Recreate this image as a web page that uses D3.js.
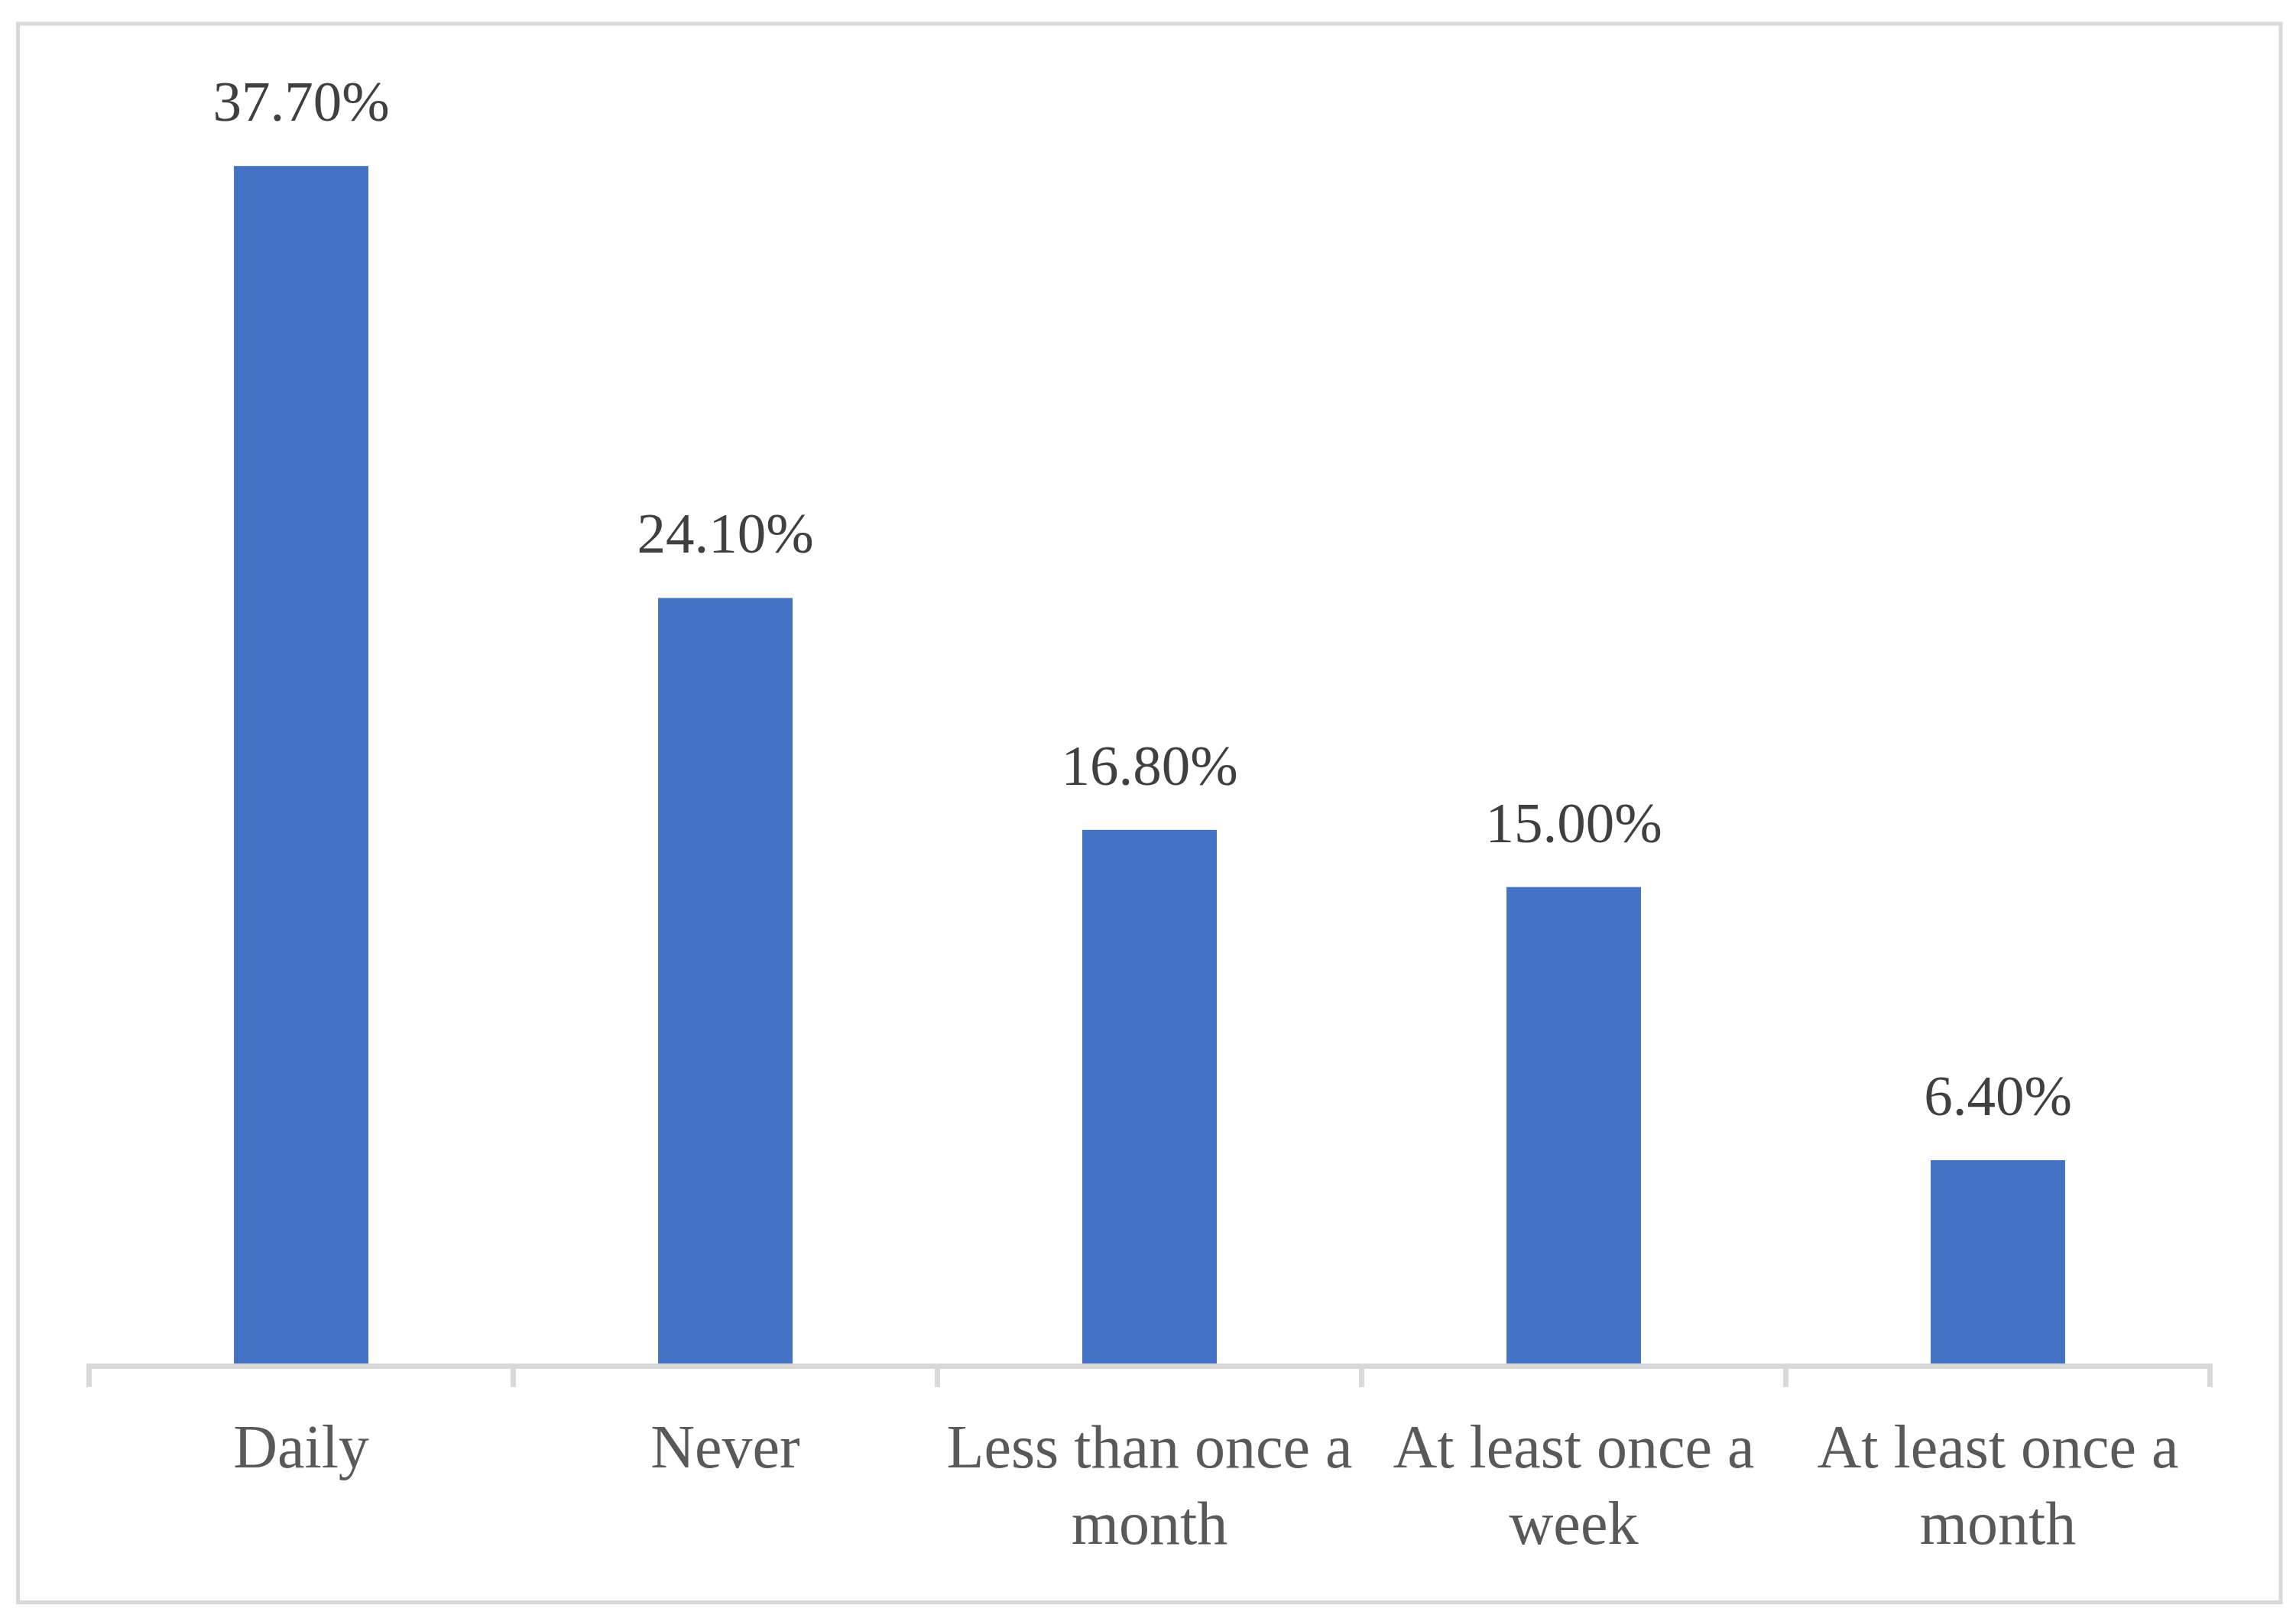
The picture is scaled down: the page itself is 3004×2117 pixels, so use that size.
<!DOCTYPE html>
<html>
<head>
<meta charset="utf-8">
<script src="https://cdn.jsdelivr.net/npm/d3@7"></script>
<style>
  html, body { margin: 0; padding: 0; background: #ffffff; }
  svg { display: block; }
</style>
</head>
<body>
<script>
// ---- data ----
const categories = ["Daily", "Never", "Less than once a month", "At least once a week", "At least once a month"];
const values = [37.7, 24.1, 16.8, 15.0, 6.4];
const valueLabels = ["37.70%", "24.10%", "16.80%", "15.00%", "6.40%"];

// ---- layout ----
const W = 3004, H = 2117;
const axisY = 1784;
const xLeft = 116.5, xRight = 2891.5;
const barRatio = 0.317;
const pxPerUnit = 41.56;

const svg = d3.select("body").append("svg")
  .attr("width", W).attr("height", H);

svg.append("rect").attr("width", W).attr("height", H).attr("fill", "#fff");

// outer border
svg.append("rect")
  .attr("x", 23.5).attr("y", 31)
  .attr("width", 2984 - 23.5).attr("height", 2096.5 - 31)
  .attr("fill", "none").attr("stroke", "#D9D9D9").attr("stroke-width", 5);

const x = d3.scaleBand().domain(categories).range([xLeft, xRight]).paddingInner(0).paddingOuter(0);
const y = d3.scaleLinear().domain([0, 40]).range([axisY, axisY - 40 * pxPerUnit]);

const data = categories.map((c, i) => ({ cat: c, v: values[i], lbl: valueLabels[i] }));
const bw = x.bandwidth();
const barW = bw * barRatio;

// bars
svg.append("g").selectAll("rect").data(data).join("rect")
  .attr("x", d => x(d.cat) + (bw - barW) / 2)
  .attr("y", d => y(d.v))
  .attr("width", barW)
  .attr("height", d => y(0) - y(d.v))
  .attr("fill", "#4472C4");

// axis line and boundary ticks
const ax = svg.append("g");
ax.append("line")
  .attr("x1", xLeft).attr("x2", xRight)
  .attr("y1", axisY + 3.5).attr("y2", axisY + 3.5)
  .attr("stroke", "#D9D9D9").attr("stroke-width", 7);
const tickPos = categories.map(c => x(c)).concat([x(categories[categories.length - 1]) + bw]);
ax.selectAll("line.tick").data(tickPos).join("line")
  .attr("class", "tick")
  .attr("x1", d => d).attr("x2", d => d)
  .attr("y1", axisY).attr("y2", 1815)
  .attr("stroke", "#D9D9D9").attr("stroke-width", 7);

// value labels
svg.append("g").selectAll("text").data(data).join("text")
  .attr("x", d => x(d.cat) + bw / 2)
  .attr("y", d => y(d.v) - 59)
  .attr("text-anchor", "middle")
  .attr("font-family", "'Liberation Serif', 'DejaVu Serif', serif")
  .attr("font-size", 75)
  .attr("fill", "#404040")
  .text(d => d.lbl);

// category labels with wrapping
const catFont = "'Liberation Serif', 'DejaVu Serif', serif";
const catG = svg.append("g");
data.forEach(d => {
  const t = catG.append("text")
    .attr("x", x(d.cat) + bw / 2)
    .attr("y", 1920)
    .attr("text-anchor", "middle")
    .attr("font-family", catFont)
    .attr("font-size", 80)
    .attr("fill", "#595959");
  const words = d.cat.split(" ");
  let line = [];
  let lineNo = 0;
  let tspan = t.append("tspan").attr("x", x(d.cat) + bw / 2).attr("dy", 0);
  words.forEach(w => {
    line.push(w);
    tspan.text(line.join(" "));
    if (tspan.node().getComputedTextLength() > bw - 4 && line.length > 1) {
      line.pop();
      tspan.text(line.join(" "));
      line = [w];
      lineNo++;
      tspan = t.append("tspan").attr("x", x(d.cat) + bw / 2).attr("dy", 100).text(w);
    }
  });
});
</script>
</body>
</html>
